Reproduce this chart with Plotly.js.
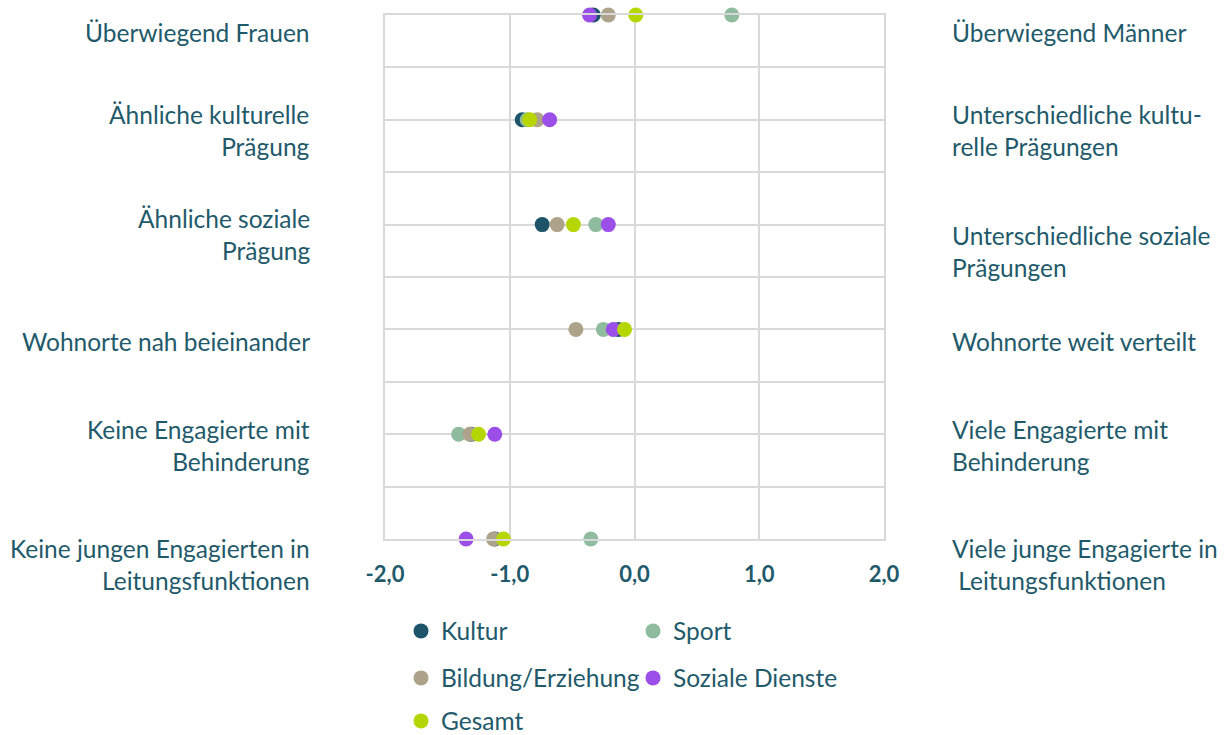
<!DOCTYPE html>
<html>
<head>
<meta charset="utf-8">
<script src="https://cdn.plot.ly/plotly-3.0.1.min.js"></script>
<style>html,body{margin:0;padding:0;background:#fff;}#chart{width:1226px;height:735px;}</style>
</head>
<body>
<div id="chart"></div>
<script>
// Rows from top to bottom
const leftLabels = [
  "Überwiegend Frauen",
  "Ähnliche kulturelle<br>Prägung",
  "Ähnliche soziale<br>Prägung",
  "Wohnorte nah beieinander",
  "Keine Engagierte mit<br>Behinderung",
  "Keine jungen Engagierten in<br>Leitungsfunktionen"
];
const rightLabels = [
  "Überwiegend Männer",
  "Unterschiedliche kultu-<br>relle Prägungen",
  "Unterschiedliche soziale<br>Prägungen",
  "Wohnorte weit verteilt",
  "Viele Engagierte mit<br>Behinderung",
  "Viele junge Engagierte in<br>\u00a0Leitungsfunktionen"
];
const seriesNames = ["Kultur", "Sport", "Bildung/Erziehung", "Soziale Dienste", "Gesamt"];
const kultur   = [-0.33, -0.90, -0.74, -0.13, -1.31, -1.12];
const sport    = [ 0.78, -0.86, -0.31, -0.25, -1.41, -0.35];
const bildung  = [-0.21, -0.78, -0.62, -0.47, -1.32, -1.13];
const soziale  = [-0.36, -0.68, -0.21, -0.17, -1.12, -1.35];
const gesamt   = [ 0.01, -0.84, -0.49, -0.08, -1.25, -1.05];
const tickVals = [-2, -1, 0, 1, 2];
const tickText = ["-2,0", "-1,0", "0,0", "1,0", "2,0"];

const colors = ["#1d5469", "#8fbc9f", "#ada38a", "#9b4ee8", "#b5d600"];
const legendIds = ["legend", "legend", "legend2", "legend2", "legend3"];
const allSeries = [kultur, sport, bildung, soziale, gesamt];
const rowY = leftLabels.map((_, i) => leftLabels.length - 1 - i);

const traces = allSeries.map((vals, k) => ({
  type: "scatter",
  mode: "markers",
  name: seriesNames[k],
  x: vals,
  y: rowY,
  cliponaxis: false,
  legend: legendIds[k],
  marker: {color: colors[k], size: 15, line: {width: 0}},
  hoverinfo: "x+name"
}));

const textColor = "#1f5a6b";
const fontFam = "Lato, 'Open Sans', sans-serif";
const labelFont = {family: fontFam, size: 24.5, color: textColor};
const leftShift = [-17, -11, -10, -12, -11, -25];
const rightShift = [-17, -11, -27, -12, -11, -25];

const annotations = [];
leftLabels.forEach((t, i) => {
  annotations.push({xref: "paper", yref: "y", x: 0, y: rowY[i], xshift: -73, yshift: leftShift[i],
    xanchor: "right", yanchor: "middle", align: "right", text: t, showarrow: false, font: labelFont});
});
rightLabels.forEach((t, i) => {
  annotations.push({xref: "paper", yref: "y", x: 1, y: rowY[i], xshift: 66, yshift: rightShift[i],
    xanchor: "left", yanchor: "middle", align: "left", text: t, showarrow: false, font: labelFont});
});

const legendBase = {orientation: "h", xref: "container", yref: "container", xanchor: "left", yanchor: "middle",
  entrywidth: 187, entrywidthmode: "pixels", font: {family: fontFam, size: 24.5, color: textColor},
  bgcolor: "rgba(0,0,0,0)", itemclick: false, itemdoubleclick: false};

const gridColor = "#d9d9d9";
const layout = {
  width: 1226, height: 735,
  margin: {l: 385, r: 342, t: 15, b: 196, autoexpand: false},
  paper_bgcolor: "#fff", plot_bgcolor: "#fff",
  showlegend: true,
  xaxis: {range: [-2, 2], tickvals: tickVals, ticktext: tickText, showgrid: true, gridcolor: gridColor, gridwidth: 2,
    zeroline: false, showline: true, mirror: true, linecolor: gridColor, linewidth: 2, ticks: "",
    ticklabelstandoff: 15, automargin: false,
    tickfont: {family: fontFam, size: 22, color: textColor, weight: "bold"}, fixedrange: true},
  yaxis: {range: [0, 5], dtick: 0.5, tick0: 0, showticklabels: false, showgrid: true, gridcolor: gridColor, gridwidth: 2,
    zeroline: false, showline: true, mirror: true, linecolor: gridColor, linewidth: 2, ticks: "", fixedrange: true,
    automargin: false},
  legend: Object.assign({}, legendBase, {x: 401 / 1226, y: 1 - 631 / 735}),
  legend2: Object.assign({}, legendBase, {x: 401 / 1226, y: 1 - 678 / 735}),
  legend3: Object.assign({}, legendBase, {x: 401 / 1226, y: 1 - 721 / 735}),
  annotations: annotations
};

Plotly.newPlot("chart", traces, layout, {displayModeBar: false});
</script>
</body>
</html>
